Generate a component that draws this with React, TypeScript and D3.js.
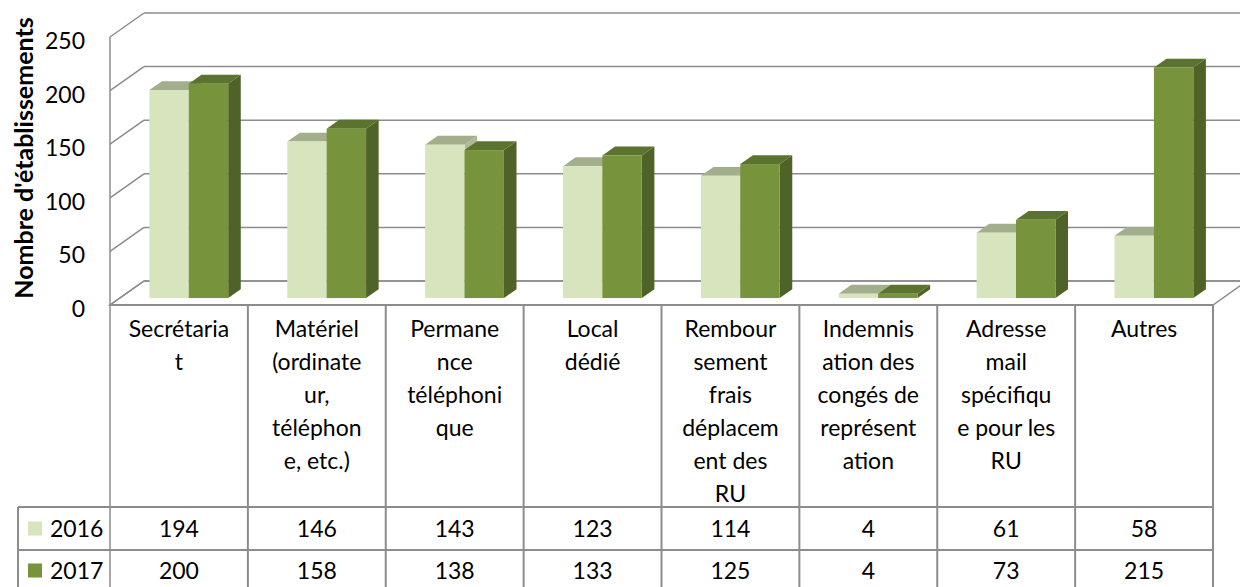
import React from 'react';
import * as d3 from 'd3';

const categories = ['Secrétariat', 'Matériel', 'Permanence', 'Local', 'Remboursement', 'Indemnisation', 'Adresse', 'Autres'];
// the wrapped header text, as it appears in the data table
const categoryLines = [
  ['Secrétaria', 't'],
  ['Matériel', '(ordinate', 'ur,', 'téléphon', 'e, etc.)'],
  ['Permane', 'nce', 'téléphoni', 'que'],
  ['Local', 'dédié'],
  ['Rembour', 'sement', 'frais', 'déplacem', 'ent des', 'RU'],
  ['Indemnis', 'ation des', 'congés de', 'représent', 'ation'],
  ['Adresse', 'mail', 'spécifiqu', 'e pour les', 'RU'],
  ['Autres'],
];
const years = ['2016', '2017'];
const values2016 = [194, 146, 143, 123, 114, 4, 61, 58];
const values2017 = [200, 158, 138, 133, 125, 4, 73, 215];
const yTicks = [0, 50, 100, 150, 200, 250];

const colors = {
  '2016': { front: '#D7E4BD', top: '#A3AE8C', side: '#AEB996' },
  '2017': { front: '#77933C', top: '#5C732F', side: '#4F6228' },
};

const FONT = 'Lato, "Open Sans", sans-serif';
const LINE = '#8C8C8C';

// oblique depth of the plot box, and where the bars sit in it
const DX = 34;
const DY = 24;
const Z0 = 0.29;
const Z1 = 0.66;

export default function App() {
  const x = d3.scaleBand().domain(categories).range([110, 1213]);
  const inner = d3.scaleBand().domain(years).range([0, x.bandwidth()]).paddingInner(0).paddingOuter(0.75);
  const y = d3.scaleLinear().domain([0, 250]).range([305, 37]);

  const proj = (px: number, v: number, z: number): [number, number] => [px + z * DX, y(v) - z * DY];
  const poly = (pts: [number, number][]) => pts.map((p) => p.join(',')).join(' ');

  const series: Record<string, number[]> = { '2016': values2016, '2017': values2017 };

  const left = 110;
  const right = 1213;
  const rows = [507, 550, 591];

  const bars: JSX.Element[] = [];
  categories.forEach((c, i) => {
    years.forEach((yr) => {
      const v = series[yr][i];
      const x0 = (x(c) as number) + (inner(yr) as number);
      const x1 = x0 + inner.bandwidth();
      const col = colors[yr as '2016' | '2017'];
      const side = poly([proj(x1, 0, Z0), proj(x1, v, Z0), proj(x1, v, Z1), proj(x1, 0, Z1)]);
      const top = poly([proj(x0, v, Z0), proj(x1, v, Z0), proj(x1, v, Z1), proj(x0, v, Z1)]);
      const [fx, fy] = proj(x0, v, Z0);
      const [, by] = proj(x0, 0, Z0);
      bars.push(
        <g key={c + yr}>
          <polygon points={side} fill={col.side} />
          <polygon points={top} fill={col.top} />
          <rect x={fx} y={fy} width={x1 - x0} height={by - fy} fill={col.front} />
        </g>
      );
    });
  });

  return (
    <svg width={1240} height={587} style={{ position: 'absolute', left: 0, top: 0 }} fontFamily={FONT}>
      <rect width={1240} height={587} fill="#fff" />
      {/* floor */}
      <polygon points={poly([proj(left, 0, 0), proj(right, 0, 0), proj(right, 0, 1), proj(left, 0, 1)])} fill="#fff" stroke={LINE} strokeWidth={1.5} />
      {/* back wall grid and left wall */}
      {yTicks.map((t) => {
        const [bx, byy] = proj(left, t, 1);
        const [ex] = proj(right, t, 1);
        return (
          <g key={t}>
            <line x1={bx} x2={ex} y1={byy} y2={byy} stroke={LINE} strokeWidth={1.5} />
            <line x1={left} x2={bx} y1={y(t)} y2={byy} stroke={LINE} strokeWidth={1.5} />
            <text x={85} y={y(t) + 3} textAnchor="end" dominantBaseline="central" fontSize={23} fill="#000">{t}</text>
          </g>
        );
      })}
      <line x1={left} x2={left} y1={y(250)} y2={600} stroke={LINE} strokeWidth={1.5} />
      {bars}
      {/* data table */}
      <line x1={left} x2={right} y1={305} y2={305} stroke={LINE} strokeWidth={2} />
      {rows.map((r) => (
        <line key={r} x1={18} x2={right} y1={r} y2={r} stroke={LINE} strokeWidth={2} />
      ))}
      <line x1={18} x2={18} y1={rows[0]} y2={600} stroke={LINE} strokeWidth={2} />
      {categories.map((c) => (
        <line key={c} x1={(x(c) as number) + x.bandwidth()} x2={(x(c) as number) + x.bandwidth()} y1={305} y2={600} stroke={LINE} strokeWidth={2} />
      ))}
      {categories.map((c, i) => (
        <text key={c} textAnchor="middle" fontSize={23} fill="#000">
          {categoryLines[i].map((l, k) => (
            <tspan key={k} x={(x(c) as number) + x.bandwidth() / 2} y={337 + k * 33}>{l}</tspan>
          ))}
        </text>
      ))}
      {years.map((yr, r) => {
        const base = (rows[r] + rows[r + 1]) / 2;
        return (
          <g key={yr}>
            <rect x={28} y={base - 7} width={14} height={14} fill={colors[yr as '2016' | '2017'].front} />
            <text x={50} y={base + 8} fontSize={23} fill="#000">{yr}</text>
            {series[yr].map((v, i) => (
              <text key={i} x={(x(categories[i]) as number) + x.bandwidth() / 2} y={base + 8} textAnchor="middle" fontSize={23} fill="#000">{v}</text>
            ))}
          </g>
        );
      })}
      <text transform="translate(33,158) rotate(-90)" textAnchor="middle" fontSize={25} fontWeight="bold" fill="#000">Nombre d'établissements</text>
    </svg>
  );
}
